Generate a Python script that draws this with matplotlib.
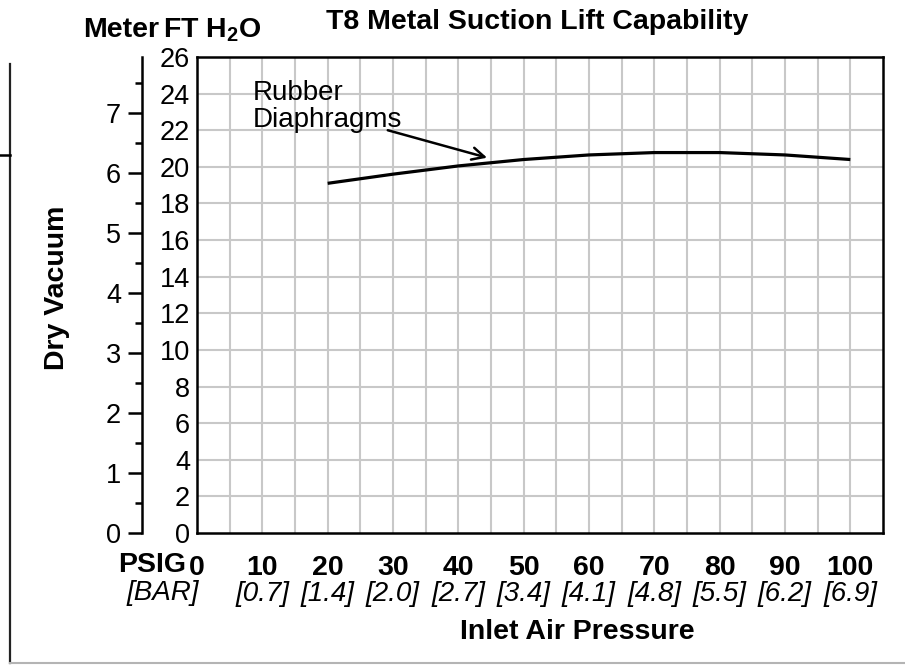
from matplotlib import pyplot as pl
from matplotlib.lines import Line2D
import numpy as np

pl.rcParams['font.family'] = ['Liberation Sans', 'DejaVu Sans']
pl.rcParams['mathtext.fontset'] = 'custom'
pl.rcParams['mathtext.rm'] = 'Liberation Sans'
pl.rcParams['mathtext.bf'] = 'Liberation Sans:bold'

# Data
psig = [20, 30, 40, 50, 60, 70, 80, 90, 100]
lift_ft = [19.1, 19.6, 20.05, 20.4, 20.65, 20.78, 20.78, 20.65, 20.4]

psig_ticks = [0, 10, 20, 30, 40, 50, 60, 70, 80, 90, 100]
bar_labels = ['[0.7]', '[1.4]', '[2.0]', '[2.7]', '[3.4]', '[4.1]',
              '[4.8]', '[5.5]', '[6.2]', '[6.9]']
ft_ticks = list(range(0, 27, 2))
meter_ticks = [0, 1, 2, 3, 4, 5, 6, 7]

W, H = 905, 666
fig = pl.figure(figsize=(W/100, H/100), dpi=100)

x0, x1, y0, y1 = 197, 883, 57, 533
ax = fig.add_axes([x0/W, (H-y1)/H, (x1-x0)/W, (y1-y0)/H])

ax.set_xlim(0, 105)
ax.set_ylim(0, 26)

# grid
for gx in np.arange(5, 105, 5):
    ax.axvline(gx, color='#c8c8c8', lw=1.5, zorder=0)
for gy in np.arange(2, 26, 2):
    ax.axhline(gy, color='#c8c8c8', lw=1.5, zorder=0)

for s in ax.spines.values():
    s.set_linewidth(1.8)

ax.plot(psig, lift_ft, color='black', lw=2.3, solid_capstyle='butt')

ax.set_yticks(ft_ticks)
ax.set_yticklabels([str(v) for v in ft_ticks], fontsize=19.5)
ax.tick_params(axis='y', length=0, pad=5)

ax.set_xticks(psig_ticks)
ax.set_xticklabels([str(v) for v in psig_ticks], fontsize=20.5,
                   fontweight='bold')
ax.tick_params(axis='x', length=0, pad=16)

# bar labels under the psig ticks
trans = ax.get_xaxis_transform()
for p, b in zip(psig_ticks[1:], bar_labels):
    ax.text(p, -61/476, b, transform=trans, ha='center', va='center',
            fontsize=20, fontstyle='italic')

fig.text(186/W, 1-565/H, 'PSIG', ha='right', va='center',
         fontsize=20.5, fontweight='bold')
fig.text(163/W, 1-593/H, '[BAR]', ha='center', va='center',
         fontsize=20, fontstyle='italic')
fig.text(577/W, 1-632/H, 'Inlet Air Pressure', ha='center', va='center',
         fontsize=20.5, fontweight='bold')
fig.text(57/W, 1-288/H, 'Dry Vacuum', ha='center', va='center',
         rotation=90, fontsize=20.5, fontweight='bold')
fig.text(537/W, 1-22/H, 'T8 Metal Suction Lift Capability', ha='center',
         va='center', fontsize=20.5, fontweight='bold')
fig.text(121/W, 1-30/H, 'Meter', ha='center', va='center',
         fontsize=20.5, fontweight='bold')
fig.text(163/W, 1-30/H, r'FT H$_\mathbf{2}$O', ha='left', va='center',
         fontsize=20.5, fontweight='bold')

# meter axis on the far left
sec = ax.secondary_yaxis(-55/686, functions=(lambda f: f*0.3048,
                                              lambda m: m/0.3048))
sec.set_yticks(meter_ticks)
sec.set_yticklabels([str(v) for v in meter_ticks], fontsize=19.5)
sec.set_yticks(np.arange(0.5, 8, 1), minor=True)
sec.tick_params(axis='y', which='major', length=10, width=1.8, pad=5)
sec.tick_params(axis='y', which='minor', length=5, width=1.8)
sec.spines['left'].set_linewidth(1.8)

# annotation
ax.text(8.5, 24.75, 'Rubber\nDiaphragms', fontsize=20, ha='left',
        va='top', linespacing=1.05, zorder=5)
ax.annotate('', xy=(44.4, 20.5), xytext=(29.2, 22.0),
            arrowprops=dict(arrowstyle='->', lw=1.8, color='black',
                            mutation_scale=22, shrinkA=0, shrinkB=0),
            zorder=5)

# leftover frame lines of the source page
fig.add_artist(Line2D([10/W, 10/W], [1-64/H, 1-663/H], color='#222222', lw=1.6))
fig.add_artist(Line2D([0, 10/W], [1-155/H, 1-155/H], color='black', lw=1.8))
fig.add_artist(Line2D([10/W, 1], [1-663/H, 1-663/H], color='#b4b4b4', lw=1.5))

fig.savefig('out.png', dpi=100)
